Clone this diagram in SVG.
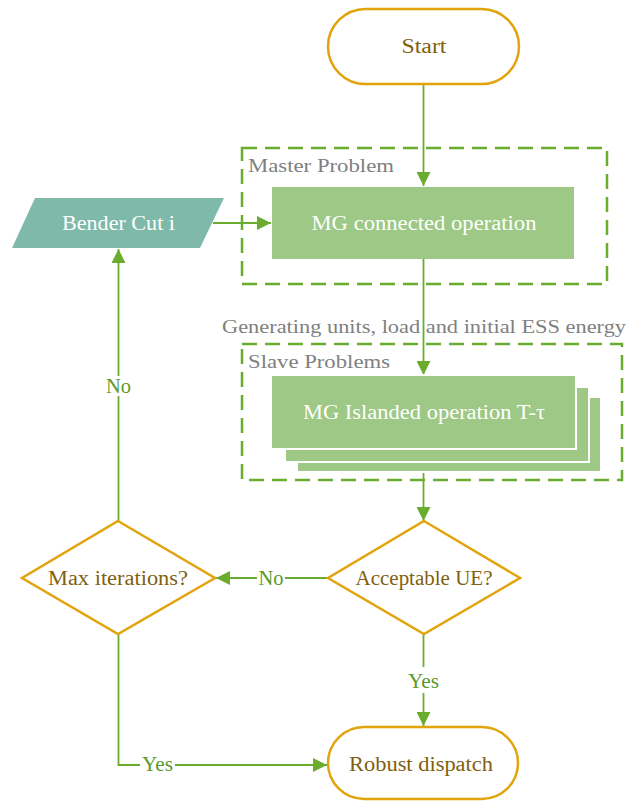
<svg xmlns="http://www.w3.org/2000/svg" width="627" height="801" viewBox="0 0 627 801">
  <defs>
    <marker id="arrow" viewBox="0 0 14 14" refX="14" refY="7" markerWidth="14" markerHeight="14" markerUnits="userSpaceOnUse" orient="auto">
      <path d="M0,0 L14,7 L0,14 Z" fill="#6aad2e"/>
    </marker>
    <style>
      text { font-family: "Liberation Serif", "DejaVu Serif", serif; }
      .term { fill: #ffffff; stroke: #e2a40c; stroke-width: 2.5; }
      .dec { fill: #ffffff; stroke: #e2a40c; stroke-width: 2.5; }
      .proc { fill: #9dc885; }
      .stack { fill: #9dc885; stroke: #ffffff; stroke-width: 2; }
      .group { fill: none; stroke: #6aad2e; stroke-width: 2.5; stroke-dasharray: 15 8; }
      .line { fill: none; stroke: #6aad2e; stroke-width: 1.8; }
      .brown { fill: #7f5f10; font-size: 20px; text-anchor: middle; }
      .white { fill: #ffffff; font-size: 20px; text-anchor: middle; }
      .gray { fill: #808080; font-size: 19px; }
      .lbl { fill: #5a9a2a; font-size: 20px; text-anchor: middle; }
    </style>
  </defs>

  <!-- dashed grouping frames -->
  <g id="master-frame">
    <rect class="group" x="242" y="148" width="365" height="136"/>
    <text class="gray" x="248" y="172" textLength="146" lengthAdjust="spacingAndGlyphs">Master Problem</text>
  </g>
  <g id="slave-frame">
    <rect class="group" x="242" y="344" width="380" height="136"/>
    <text class="gray" x="248" y="368" textLength="142" lengthAdjust="spacingAndGlyphs">Slave Problems</text>
  </g>

  <!-- connectors -->
  <g id="connectors">
    <line class="line" x1="423.5" y1="84" x2="423.5" y2="186" marker-end="url(#arrow)"/>
    <line class="line" x1="423.5" y1="259" x2="423.5" y2="375" marker-end="url(#arrow)"/>
    <line class="line" x1="423.5" y1="471" x2="423.5" y2="521" marker-end="url(#arrow)"/>
    <line class="line" x1="213" y1="223" x2="271" y2="223" marker-end="url(#arrow)"/>
    <line class="line" x1="328" y1="578" x2="216" y2="578" marker-end="url(#arrow)"/>
    <line class="line" x1="118.5" y1="521" x2="118.5" y2="249" marker-end="url(#arrow)"/>
    <line class="line" x1="423.5" y1="634" x2="423.5" y2="726" marker-end="url(#arrow)"/>
    <polyline class="line" points="118.5,634 118.5,765 327,765" marker-end="url(#arrow)"/>
    <!-- edge labels on white backing -->
    <rect x="257" y="568" width="28" height="20" fill="#ffffff"/>
    <text class="lbl" x="271" y="585" textLength="25" lengthAdjust="spacingAndGlyphs">No</text>
    <rect x="104" y="376" width="29" height="20" fill="#ffffff"/>
    <text class="lbl" x="118.5" y="393" textLength="25" lengthAdjust="spacingAndGlyphs">No</text>
    <rect x="406" y="667" width="35" height="26" fill="#ffffff"/>
    <text class="lbl" x="423.5" y="688" textLength="31" lengthAdjust="spacingAndGlyphs">Yes</text>
    <rect x="140" y="755" width="35" height="20" fill="#ffffff"/>
    <text class="lbl" x="157.5" y="771" textLength="31" lengthAdjust="spacingAndGlyphs">Yes</text>
  </g>

  <!-- data passed between master and slave problems -->
  <text class="gray" x="222" y="333" textLength="404" lengthAdjust="spacingAndGlyphs">Generating units, load and initial ESS energy</text>

  <g id="start">
    <rect class="term" x="328" y="9" width="191" height="75" rx="37.5"/>
    <text class="brown" x="424" y="53" textLength="45" lengthAdjust="spacingAndGlyphs">Start</text>
  </g>

  <g id="mg-connected">
    <rect class="proc" x="272" y="187" width="302" height="72"/>
    <text class="white" x="424" y="230" textLength="225" lengthAdjust="spacingAndGlyphs">MG connected operation</text>
  </g>

  <g id="bender-cut">
    <polygon points="35,198 224,198 200,248 12,248" fill="#7fb9a9"/>
    <text class="white" x="118.5" y="230" textLength="113" lengthAdjust="spacingAndGlyphs">Bender Cut i</text>
  </g>

  <g id="mg-islanded">
    <rect class="stack" x="297" y="397" width="304" height="75"/>
    <rect class="stack" x="285" y="387" width="304" height="75"/>
    <rect class="stack" x="271" y="375" width="305" height="74"/>
    <text class="white" x="424" y="419" textLength="242" lengthAdjust="spacingAndGlyphs">MG Islanded operation T-τ</text>
  </g>

  <g id="acceptable-ue">
    <polygon class="dec" points="424,521 520,578 424,634 328,578"/>
    <text class="brown" x="424" y="585" textLength="137" lengthAdjust="spacingAndGlyphs">Acceptable UE?</text>
  </g>

  <g id="max-iterations">
    <polygon class="dec" points="118,521 215,578 118,634 22,578"/>
    <text class="brown" x="118" y="585" textLength="140" lengthAdjust="spacingAndGlyphs">Max iterations?</text>
  </g>

  <g id="robust-dispatch">
    <rect class="term" x="328" y="727" width="190" height="72" rx="36"/>
    <text class="brown" x="421" y="771" textLength="144" lengthAdjust="spacingAndGlyphs">Robust dispatch</text>
  </g>
</svg>
